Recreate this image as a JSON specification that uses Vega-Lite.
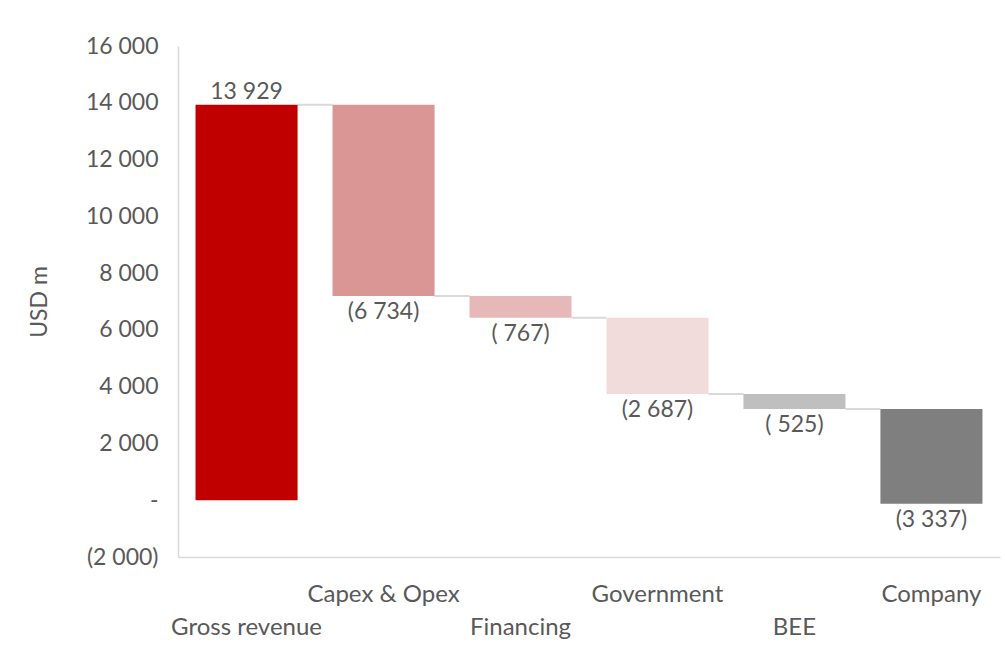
{
  "$schema": "https://vega.github.io/schema/vega-lite/v6.json",
  "width": 822,
  "height": 511,
  "autosize": {"type": "none"},
  "padding": {"left": 178, "top": 46, "right": 5, "bottom": 92},
  "background": "white",
  "config": {
    "view": {"stroke": null},
    "font": "Lato",
    "axis": {"labelFont": "Lato", "titleFont": "Lato", "labelColor": "#595959", "titleColor": "#595959", "grid": false, "ticks": false, "domainColor": "#d9d9d9", "domainWidth": 1.5}
  },
  "data": {
    "values": [
      {"cat": "Gross revenue", "start": 0, "end": 13929, "value": 13929, "label": "13 929", "next": "Capex & Opex"},
      {"cat": "Capex & Opex", "start": 13929, "end": 7195, "value": -6734, "label": "(6 734)", "next": "Financing"},
      {"cat": "Financing", "start": 7195, "end": 6428, "value": -767, "label": "( 767)", "next": "Government"},
      {"cat": "Government", "start": 6428, "end": 3741, "value": -2687, "label": "(2 687)", "next": "BEE"},
      {"cat": "BEE", "start": 3741, "end": 3216, "value": -525, "label": "( 525)", "next": "Company"},
      {"cat": "Company", "start": 3216, "end": -121, "value": -3337, "label": "(3 337)", "next": null}
    ]
  },
  "encoding": {
    "x": {
      "field": "cat",
      "type": "nominal",
      "sort": ["Gross revenue", "Capex & Opex", "Financing", "Government", "BEE", "Company"],
      "scale": {"paddingInner": 0.255, "paddingOuter": 0.128},
      "axis": {
        "title": null,
        "labelAngle": 0,
        "labelFontSize": 24,
        "labelPadding": 25,
        "labelBaseline": "top",
        "labelLineHeight": 33,
        "labelExpr": "indexof(['Gross revenue','Financing','BEE'], datum.value) >= 0 ? ['', datum.value] : datum.value"
      }
    }
  },
  "layer": [
    {
      "transform": [{"filter": "datum.next != null"}],
      "mark": {"type": "rule", "color": "#d9d9d9", "strokeWidth": 2},
      "encoding": {
        "x": {"field": "cat", "type": "nominal", "bandPosition": 1, "sort": ["Gross revenue", "Capex & Opex", "Financing", "Government", "BEE", "Company"]},
        "x2": {"field": "next", "bandPosition": 0},
        "y": {"field": "end", "type": "quantitative"}
      }
    },
    {
      "mark": {"type": "bar"},
      "encoding": {
        "y": {
          "field": "start",
          "type": "quantitative",
          "scale": {"domain": [-2000, 16000], "nice": false},
          "axis": {
            "title": "USD m",
            "titleFontSize": 23,
            "titleFontWeight": "normal",
            "titlePadding": 34,
            "labelFontSize": 23,
            "labelPadding": 20,
            "values": [-2000, 0, 2000, 4000, 6000, 8000, 10000, 12000, 14000, 16000],
            "labelExpr": "datum.value == 0 ? '-' : (datum.value < 0 ? '(' + replace(format(-datum.value, ','), ',', ' ') + ')' : replace(format(datum.value, ','), ',', ' '))"
          }
        },
        "y2": {"field": "end"},
        "color": {
          "field": "cat",
          "type": "nominal",
          "scale": {
            "domain": ["Gross revenue", "Capex & Opex", "Financing", "Government", "BEE", "Company"],
            "range": ["#C00000", "#D99694", "#E6B9B8", "#F2DCDB", "#BFBFBF", "#7F7F7F"]
          },
          "legend": null
        }
      }
    },
    {
      "transform": [{"filter": "datum.value > 0"}],
      "mark": {"type": "text", "fontSize": 23, "color": "#595959", "baseline": "alphabetic", "dy": -6},
      "encoding": {
        "y": {"field": "end", "type": "quantitative"},
        "text": {"field": "label"}
      }
    },
    {
      "transform": [{"filter": "datum.value < 0"}],
      "mark": {"type": "text", "fontSize": 23, "color": "#595959", "baseline": "top", "dy": 5},
      "encoding": {
        "y": {"field": "end", "type": "quantitative"},
        "text": {"field": "label"}
      }
    }
  ]
}
